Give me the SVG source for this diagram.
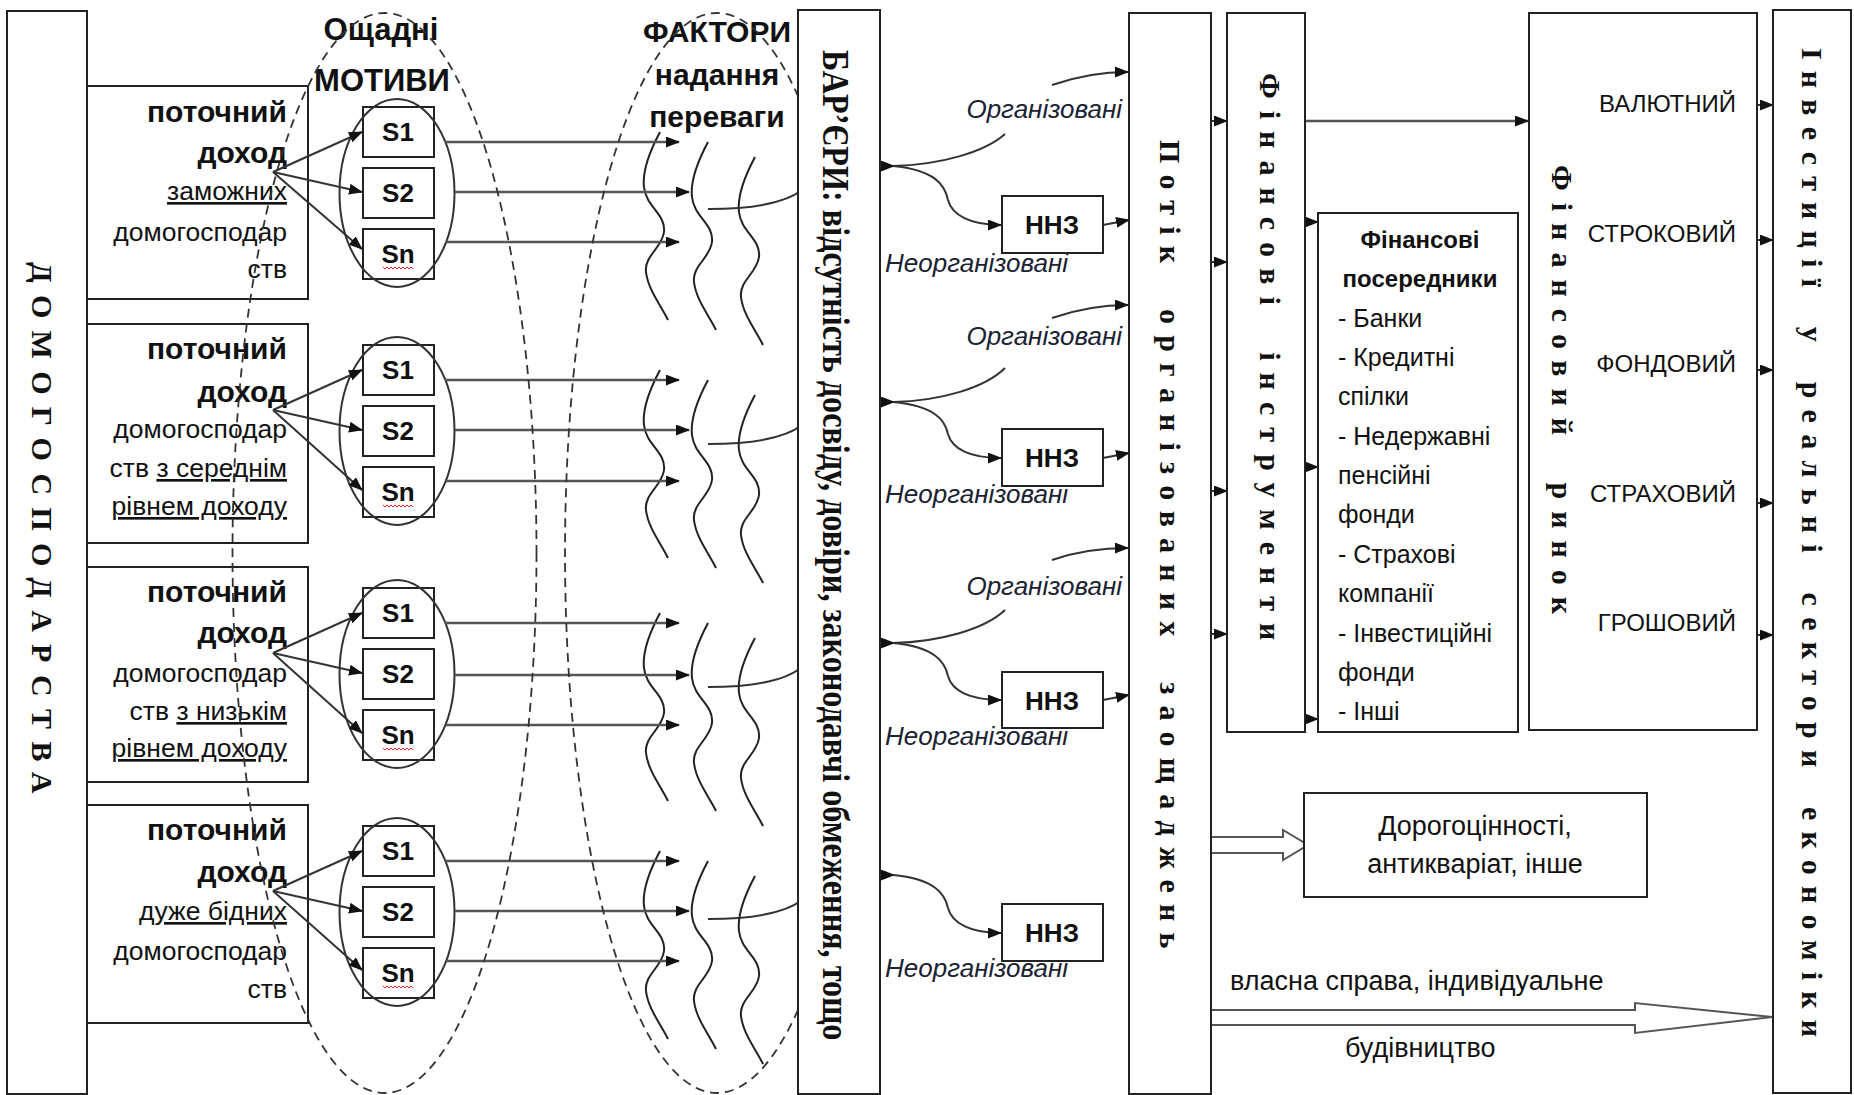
<svg xmlns="http://www.w3.org/2000/svg" width="1854" height="1095" viewBox="0 0 1854 1095">
<defs>
<style>
.bx{fill:#fff;stroke:#222;stroke-width:2}
.ln{fill:none;stroke:#333;stroke-width:2}
.gl{fill:none;stroke:#555;stroke-width:2.5}
.dsh{fill:none;stroke:#333;stroke-width:1.8;stroke-dasharray:9 6}
.el{fill:none;stroke:#333;stroke-width:2}
.wv{fill:none;stroke:#222;stroke-width:2}
.ho{fill:#fff;stroke:#555;stroke-width:2}
.sq{fill:none;stroke:#e02020;stroke-width:1}
text{fill:#111}
.sb{font-family:"Liberation Sans",Arial,sans-serif;font-weight:bold}
.sr{font-family:"Liberation Sans",Arial,sans-serif}
.si{font-family:"Liberation Sans",Arial,sans-serif;font-style:italic;font-size:26px;fill:#1a2233}
.vt{font-family:"Liberation Serif","Times New Roman",serif;font-weight:bold;font-size:30px}
.vb{font-size:32.2px}
.hb{font-size:30px;text-anchor:end}
.hr{font-size:26.5px;text-anchor:end}
.st{font-size:26px;text-anchor:middle}
.nz{font-size:26px;text-anchor:middle}
.mk{font-size:24px;text-anchor:end}
.fl{font-size:25px}
.bt{font-size:27px}
.u{text-decoration:underline}
</style>
<marker id="ah" markerWidth="14" markerHeight="11" refX="13" refY="5.5" orient="auto" markerUnits="userSpaceOnUse"><path d="M0,0 L14,5.5 L0,11 z" fill="#111"/></marker>
<path id="wave" class="wv" d="M0,0 C-8,15 -18,38 -16,55 C-14,75 6,82 4,100 C2,116 -16,124 -14,140 C-12,158 2,175 8,188"/>
<path id="squig" class="sq" d="M0,0 l2,2 l2,-2 l2,2 l2,-2 l2,2 l2,-2 l2,2 l2,-2 l2,2 l2,-2 l2,2 l2,-2 l2,2 l2,-2 l2,2"/>
</defs>
<rect width="1854" height="1095" fill="#fff"/>

<!-- Households main box -->
<g id="households">
<rect class="bx" x="7" y="11" width="80" height="1083"/>
<text class="vt" transform="translate(32,262) rotate(90)" letter-spacing="12.3">ДОМОГОСПОДАРСТВА</text>
</g>

<!-- Household income boxes -->
<g id="hh1">
<rect class="bx" x="87" y="86" width="221" height="213"/>
<text class="sb hb" x="287" y="122">поточний</text>
<text class="sb hb" x="287" y="163">доход</text>
<text class="sr hr" x="287" y="200"><tspan class="u">заможних</tspan></text>
<text class="sr hr" x="287" y="241">домогосподар</text>
<text class="sr hr" x="287" y="278">ств</text>
</g>
<g id="hh2">
<rect class="bx" x="87" y="324" width="221" height="219"/>
<text class="sb hb" x="287" y="359">поточний</text>
<text class="sb hb" x="287" y="402">доход</text>
<text class="sr hr" x="287" y="438">домогосподар</text>
<text class="sr hr" x="287" y="477">ств <tspan class="u">з середнім</tspan></text>
<text class="sr hr" x="287" y="515"><tspan class="u">рівнем доходу</tspan></text>
</g>
<g id="hh3">
<rect class="bx" x="87" y="567" width="221" height="215"/>
<text class="sb hb" x="287" y="602">поточний</text>
<text class="sb hb" x="287" y="643">доход</text>
<text class="sr hr" x="287" y="682">домогосподар</text>
<text class="sr hr" x="287" y="720">ств  <tspan class="u">з низькім</tspan></text>
<text class="sr hr" x="287" y="757"><tspan class="u">рівнем доходу</tspan></text>
</g>
<g id="hh4">
<rect class="bx" x="87" y="805" width="221" height="218"/>
<text class="sb hb" x="287" y="840">поточний</text>
<text class="sb hb" x="287" y="882">доход</text>
<text class="sr hr" x="287" y="920"><tspan class="u">дуже бідних</tspan></text>
<text class="sr hr" x="287" y="960">домогосподар</text>
<text class="sr hr" x="287" y="998">ств</text>
</g>

<!-- Headings -->
<g id="motives-title">
<text class="sb" x="381" y="40" font-size="31" text-anchor="middle">Ощадні</text>
<text class="sb" x="382" y="91" font-size="31" text-anchor="middle">МОТИВИ</text>
</g>
<g id="factors-title">
<text class="sb" x="717" y="42" font-size="30" text-anchor="middle">ФАКТОРИ</text>
<text class="sb" x="717" y="85" font-size="30" text-anchor="middle">надання</text>
<text class="sb" x="717" y="127" font-size="30" text-anchor="middle">переваги</text>
</g>

<!-- Motive boxes -->
<g id="motives1">
<rect class="bx" x="363" y="107" width="71" height="50"/>
<rect class="bx" x="363" y="168" width="71" height="50"/>
<rect class="bx" x="363" y="229" width="71" height="50"/>
<text class="sb st" x="398" y="141">S1</text>
<text class="sb st" x="398" y="202">S2</text>
<text class="sb st" x="398" y="263">Sn</text>
<use href="#squig" x="383" y="267"/>
<ellipse class="el" cx="397" cy="193" rx="57.5" ry="94"/>
</g>
<g id="motives2">
<rect class="bx" x="363" y="345" width="71" height="50"/>
<rect class="bx" x="363" y="406" width="71" height="50"/>
<rect class="bx" x="363" y="467" width="71" height="50"/>
<text class="sb st" x="398" y="379">S1</text>
<text class="sb st" x="398" y="440">S2</text>
<text class="sb st" x="398" y="501">Sn</text>
<use href="#squig" x="383" y="505"/>
<ellipse class="el" cx="397" cy="431" rx="57.5" ry="94"/>
</g>
<g id="motives3">
<rect class="bx" x="363" y="588" width="71" height="50"/>
<rect class="bx" x="363" y="649" width="71" height="50"/>
<rect class="bx" x="363" y="710" width="71" height="50"/>
<text class="sb st" x="398" y="622">S1</text>
<text class="sb st" x="398" y="683">S2</text>
<text class="sb st" x="398" y="744">Sn</text>
<use href="#squig" x="383" y="748"/>
<ellipse class="el" cx="397" cy="674" rx="57.5" ry="94"/>
</g>
<g id="motives4">
<rect class="bx" x="363" y="826" width="71" height="50"/>
<rect class="bx" x="363" y="887" width="71" height="50"/>
<rect class="bx" x="363" y="948" width="71" height="50"/>
<text class="sb st" x="398" y="860">S1</text>
<text class="sb st" x="398" y="921">S2</text>
<text class="sb st" x="398" y="982">Sn</text>
<use href="#squig" x="383" y="986"/>
<ellipse class="el" cx="397" cy="912" rx="57.5" ry="94"/>
</g>

<!-- Factor waves -->
<g id="factor-waves">
<use href="#wave" x="660" y="132"/><use href="#wave" x="708" y="142"/><use href="#wave" x="755" y="157"/>
<use href="#wave" x="660" y="370"/><use href="#wave" x="708" y="380"/><use href="#wave" x="755" y="395"/>
<use href="#wave" x="660" y="613"/><use href="#wave" x="708" y="623"/><use href="#wave" x="755" y="638"/>
<use href="#wave" x="660" y="851"/><use href="#wave" x="708" y="861"/><use href="#wave" x="755" y="876"/>
</g>

<!-- Connectors -->
<g id="connectors">
<path class="ln" marker-end="url(#ah)" d="M273,172 L362,132"/>
<path class="ln" marker-end="url(#ah)" d="M273,172 L362,192"/>
<path class="ln" marker-end="url(#ah)" d="M273,172 L362,249"/>
<path class="ln" marker-end="url(#ah)" d="M273,410 L362,370"/>
<path class="ln" marker-end="url(#ah)" d="M273,410 L362,430"/>
<path class="ln" marker-end="url(#ah)" d="M273,410 L362,490"/>
<path class="ln" marker-end="url(#ah)" d="M273,653 L362,613"/>
<path class="ln" marker-end="url(#ah)" d="M273,653 L362,673"/>
<path class="ln" marker-end="url(#ah)" d="M273,653 L362,733"/>
<path class="ln" marker-end="url(#ah)" d="M273,891 L362,851"/>
<path class="ln" marker-end="url(#ah)" d="M273,891 L362,911"/>
<path class="ln" marker-end="url(#ah)" d="M273,891 L362,970"/>

<path class="gl" marker-end="url(#ah)" d="M445,142 H679"/>
<path class="gl" marker-end="url(#ah)" d="M455,192 H689"/>
<path class="gl" marker-end="url(#ah)" d="M446,242 H679"/>
<path class="gl" marker-end="url(#ah)" d="M445,380 H679"/>
<path class="gl" marker-end="url(#ah)" d="M455,430 H689"/>
<path class="gl" marker-end="url(#ah)" d="M446,481 H679"/>
<path class="gl" marker-end="url(#ah)" d="M445,623 H679"/>
<path class="gl" marker-end="url(#ah)" d="M455,675 H689"/>
<path class="gl" marker-end="url(#ah)" d="M446,725 H679"/>
<path class="gl" marker-end="url(#ah)" d="M445,861 H679"/>
<path class="gl" marker-end="url(#ah)" d="M455,911 H689"/>
<path class="gl" marker-end="url(#ah)" d="M446,961 H679"/>

<path class="ln" d="M708,209 C750,209 785,203 802,190"/>
<path class="ln" d="M708,444 C750,444 785,438 802,425"/>
<path class="ln" d="M708,687 C750,687 785,681 802,667"/>
<path class="ln" d="M708,919 C750,919 785,913 802,900"/>
</g>

<!-- Dashed grouping ellipses -->
<g id="groupings">
<ellipse class="dsh" cx="384.5" cy="553" rx="152" ry="540"/>
<ellipse class="dsh" cx="717" cy="553" rx="152" ry="540"/>
</g>

<!-- Barriers -->
<g id="barriers">
<rect class="bx" x="798" y="10" width="82" height="1084"/>
<text class="vt vb" transform="translate(823,50) rotate(90) scale(1,1.15)">БАР’ЄРИ: відсутність досвіду, довіри, законодавчі обмеження, тощо</text>
</g>

<g id="connectors-right">
<path class="ln" marker-end="url(#ah)" d="M880,166 H894"/>
<path class="ln" marker-end="url(#ah)" d="M880,402 H894"/>
<path class="ln" marker-end="url(#ah)" d="M880,643 H894"/>
<path class="ln" marker-end="url(#ah)" d="M880,875 H894"/>

<path class="ln" d="M893,166 C940,165 985,152 1005,134"/>
<path class="ln" d="M893,402 C940,401 985,388 1005,368"/>
<path class="ln" d="M893,643 C940,642 985,629 1005,610"/>
<path class="ln" marker-end="url(#ah)" d="M1052,85 C1075,77 1100,72 1128,72"/>
<path class="ln" marker-end="url(#ah)" d="M1052,318 C1075,310 1100,305 1128,305"/>
<path class="ln" marker-end="url(#ah)" d="M1052,560 C1075,552 1100,548 1128,548"/>

<path class="ln" marker-end="url(#ah)" d="M893,166 C935,170 945,185 948,200 C952,215 970,225 1001,225"/>
<path class="ln" marker-end="url(#ah)" d="M893,402 C935,406 945,420 948,434 C952,449 970,458 1001,458"/>
<path class="ln" marker-end="url(#ah)" d="M893,643 C935,647 945,662 948,676 C952,691 970,700 1001,700"/>
<path class="ln" marker-end="url(#ah)" d="M893,875 C935,879 945,894 948,908 C952,923 970,933 1001,933"/>

<path class="ln" marker-end="url(#ah)" d="M1103,225 L1129,220"/>
<path class="ln" marker-end="url(#ah)" d="M1103,458 L1129,453"/>
<path class="ln" marker-end="url(#ah)" d="M1103,700 L1129,695"/>

<path class="ln" marker-end="url(#ah)" d="M1211,121 H1227"/>
<path class="ln" marker-end="url(#ah)" d="M1211,262 H1227"/>
<path class="ln" marker-end="url(#ah)" d="M1211,491 H1227"/>
<path class="ln" marker-end="url(#ah)" d="M1211,634 H1227"/>
<path class="gl" marker-end="url(#ah)" d="M1305,121 H1528"/>
<path class="ln" marker-end="url(#ah)" d="M1305,222 H1318"/>
<path class="ln" marker-end="url(#ah)" d="M1305,467 H1318"/>
<path class="ln" marker-end="url(#ah)" d="M1305,719 H1318"/>
<path class="ln" marker-end="url(#ah)" d="M1757,105 H1773"/>
<path class="ln" marker-end="url(#ah)" d="M1757,240 H1773"/>
<path class="ln" marker-end="url(#ah)" d="M1757,370 H1773"/>
<path class="ln" marker-end="url(#ah)" d="M1757,503 H1773"/>
<path class="ln" marker-end="url(#ah)" d="M1757,635 H1773"/>

<polygon class="ho" points="1211,837 1283,837 1283,830 1308,845 1283,860 1283,853 1211,853"/>
<polygon class="ho" points="1211,1010 1635,1010 1635,1003 1772,1017 1635,1033 1635,1025 1211,1025"/>
</g>

<g id="flow-labels">
<text class="si" x="1122" y="118" text-anchor="end">Організовані</text>
<text class="si" x="1122" y="345" text-anchor="end">Організовані</text>
<text class="si" x="1122" y="595" text-anchor="end">Організовані</text>
<text class="si" x="885" y="272">Неорганізовані</text>
<text class="si" x="885" y="503">Неорганізовані</text>
<text class="si" x="885" y="745">Неорганізовані</text>
<text class="si" x="885" y="977">Неорганізовані</text>
</g>

<g id="nnz1"><rect class="bx" x="1002" y="196" width="101" height="57"/><text class="sb nz" x="1052" y="234">ННЗ</text></g>
<g id="nnz2"><rect class="bx" x="1002" y="429" width="101" height="57"/><text class="sb nz" x="1052" y="467">ННЗ</text></g>
<g id="nnz3"><rect class="bx" x="1002" y="672" width="101" height="56"/><text class="sb nz" x="1052" y="710">ННЗ</text></g>
<g id="nnz4"><rect class="bx" x="1002" y="904" width="101" height="57"/><text class="sb nz" x="1052" y="942">ННЗ</text></g>

<g id="savings-flow">
<rect class="bx" x="1129" y="13" width="82" height="1081"/>
<text class="vt" transform="translate(1160,140) rotate(90)" letter-spacing="11.2" word-spacing="16">Потік організованих заощаджень</text>
</g>

<g id="fin-instruments">
<rect class="bx" x="1227" y="13" width="78" height="719"/>
<text class="vt" transform="translate(1260,73) rotate(90)" letter-spacing="12" word-spacing="16">Фінансові інструменти</text>
</g>

<g id="fin-intermediaries">
<rect class="bx" x="1318" y="213" width="200" height="519"/>
<text class="sb" x="1420" y="248" font-size="24" text-anchor="middle">Фінансові</text>
<text class="sb" x="1420" y="287" font-size="24" text-anchor="middle">посередники</text>
<text class="sr fl" x="1338" y="327">- Банки</text>
<text class="sr fl" x="1338" y="366">- Кредитні</text>
<text class="sr fl" x="1338" y="405">спілки</text>
<text class="sr fl" x="1338" y="445">- Недержавні</text>
<text class="sr fl" x="1338" y="484">пенсійні</text>
<text class="sr fl" x="1338" y="523">фонди</text>
<text class="sr fl" x="1338" y="563">- Страхові</text>
<text class="sr fl" x="1338" y="602">компанії</text>
<text class="sr fl" x="1338" y="642">- Інвестиційні</text>
<text class="sr fl" x="1338" y="681">фонди</text>
<text class="sr fl" x="1338" y="720">- Інші</text>
</g>

<g id="fin-market">
<rect class="bx" x="1529" y="13" width="228" height="717"/>
<text class="vt" transform="translate(1552,165) rotate(90)" letter-spacing="12" word-spacing="16">Фінансовий ринок</text>
<text class="sr mk" x="1736" y="112">ВАЛЮТНИЙ</text>
<text class="sr mk" x="1736" y="242">СТРОКОВИЙ</text>
<text class="sr mk" x="1736" y="372">ФОНДОВИЙ</text>
<text class="sr mk" x="1736" y="502">СТРАХОВИЙ</text>
<text class="sr mk" x="1736" y="631">ГРОШОВИЙ</text>
</g>

<g id="investments">
<rect class="bx" x="1773" y="10" width="78" height="1083"/>
<text class="vt" transform="translate(1802,48) rotate(90)" letter-spacing="11.2" word-spacing="10">Інвестиції у реальні сектори економіки</text>
</g>

<g id="valuables">
<rect class="bx" x="1304" y="793" width="343" height="104"/>
<text class="sr bt" x="1475" y="835" text-anchor="middle">Дорогоцінності,</text>
<text class="sr bt" x="1475" y="873" text-anchor="middle">антикваріат, інше</text>
</g>

<g id="own-business-label">
<text class="sr bt" x="1230" y="990">власна справа, індивідуальне</text>
<text class="sr bt" x="1345" y="1057">будівництво</text>
</g>
</svg>
